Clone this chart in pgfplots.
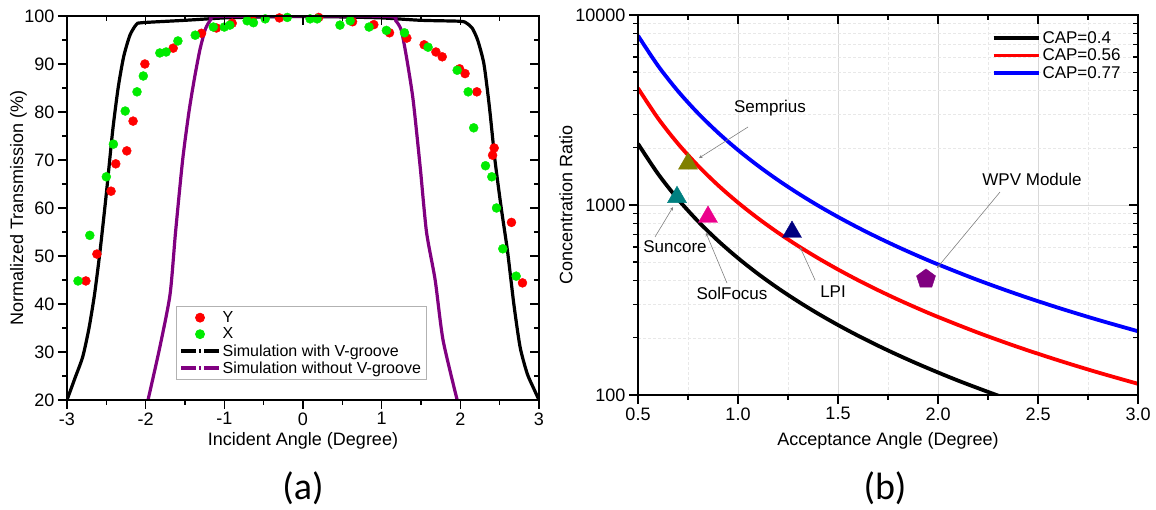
\documentclass[border=0pt]{standalone}
\usepackage{fontspec}
\setmainfont{Liberation Sans}
\newfontfamily\capfont{Carlito}
\usepackage{pgfplots}
\pgfplotsset{compat=1.18}

\definecolor{simpurple}{RGB}{128,0,128}
\definecolor{dotgreen}{RGB}{0,235,0}
\definecolor{semp}{RGB}{128,128,0}
\definecolor{sunc}{RGB}{0,128,128}
\definecolor{lpi}{RGB}{0,0,128}
\definecolor{wpv}{RGB}{128,0,128}

\newcommand{\tickfont}{\fontsize{18}{20}\selectfont}
\newcommand{\labfont}{\fontsize{18}{21}\selectfont}

\tikzset{tk/.style={line width=1.6pt, black}, tkm/.style={line width=1.3pt, black}}

\pgfplotsset{
  panel/.style={
    scale only axis, anchor=south west,
    major tick length=9pt, minor tick length=5pt,
    every major tick/.append style={line width=1.6pt, black},
    every minor tick/.append style={line width=1.4pt, black},
    axis line style={line width=1.8pt},
    tick label style={font=\tickfont},
    /pgf/number format/assume math mode=true,
  },
  frame/.style={
    panel, xtick=\empty, ytick=\empty, clip=false,
  },
  dotleg/.style={legend image code/.code={\draw[mark repeat=2,mark phase=2,##1] plot coordinates {(0pt,0pt) (19pt,0pt) (38pt,0pt)};}},
  dashleg/.style={legend image code/.code={\draw[##1, dash pattern=on 15pt off 3pt on 2pt off 3pt] (0pt,0pt) -- (38pt,0pt);}},
  lineleg/.style={legend image code/.code={\draw[##1] (0pt,0pt) -- (45pt,0pt);}},
}

\begin{document}
\begin{tikzpicture}
\path (0pt,0pt) rectangle (1156pt,510pt);

% ---------- panel (a) ----------
\begin{axis}[
  panel,
  at={(67pt,110pt)},
  width=472pt, height=384pt,
  xmin=-3, xmax=3, ymin=20, ymax=100,
  xtick={-3,-2,-1,0,1,2,3},
  ytick={20,30,40,50,60,70,80,90,100},
  minor x tick num=1, minor y tick num=1,
  xtick pos=left, ytick pos=left, tick align=outside,
  xlabel={Incident Angle (Degree)},
  ylabel={Normalized Transmission (\%)},
  xlabel style={at={(axis description cs:0.5,-0.107)}, anchor=center, font=\labfont},
  ylabel style={at={(axis description cs:-0.103,0.5)}, anchor=center, font=\labfont},
  legend style={at={(axis description cs:0.231,0.052)}, anchor=south west,
    draw=gray!60, line width=0.8pt, font=\fontsize{16}{18}\selectfont,
    row sep=0pt, inner sep=3pt, cells={anchor=west}},
]
\addplot[only marks, mark=*, mark size=4.5pt, color=red, dotleg]
coordinates {
(-2.76,44.8) (-2.62,50.4) (-2.44,63.5) (-2.38,69.2) (-2.24,71.9) (-2.16,78.1)
(-2.01,90.0) (-1.65,93.3) (-1.29,96.4) (-1.10,97.5) (-0.90,98.5) (-0.65,99.2)
(-0.30,99.6) (0.20,99.7) (0.63,98.8) (0.90,98.2) (1.10,96.5) (1.32,95.4)
(1.54,94.0) (1.69,92.5) (1.77,91.5) (1.99,89.0) (2.06,88.0) (2.21,84.2)
(2.41,71.0) (2.43,72.5) (2.65,57.0) (2.79,44.4)
};
\addlegendentry{Y}
\addplot[only marks, mark=*, mark size=4.5pt, color=dotgreen, dotleg]
coordinates {
(-2.86,44.8) (-2.71,54.3) (-2.50,66.5) (-2.41,73.3) (-2.26,80.2) (-2.11,84.2)
(-2.03,87.5) (-1.82,92.3) (-1.74,92.5) (-1.59,94.8) (-1.37,96.0) (-1.14,97.7)
(-1.00,97.7) (-0.93,98.1) (-0.71,99.0) (-0.63,98.6) (-0.48,99.4) (-0.20,99.7)
(0.09,99.4) (0.18,99.4) (0.47,98.1) (0.60,99.0) (0.84,97.7) (1.06,97.0)
(1.29,96.5) (1.59,93.5) (1.96,88.7) (2.10,84.2) (2.17,76.7) (2.32,68.8)
(2.40,66.5) (2.46,60.0) (2.54,51.5) (2.71,45.8)
};
\addlegendentry{X}
\addplot[black, line width=3.2pt, smooth, tension=0.4, dashleg]
coordinates {
(-3.00,20) (-2.90,24.5) (-2.80,29) (-2.72,35) (-2.65,42) (-2.58,51) (-2.50,63)
(-2.42,76) (-2.35,85) (-2.28,91.5) (-2.20,96) (-2.12,98.2) (-2.05,98.6)
(-1.5,99.1) (-1.0,99.6) (-0.5,99.8) (0,99.9) (0.5,99.8) (1.0,99.6) (1.5,99.1)
(2.00,98.9) (2.08,98.5) (2.15,97.5) (2.22,95) (2.30,90) (2.37,81) (2.44,70)
(2.52,60) (2.60,51) (2.68,40) (2.76,31) (2.85,25.5) (2.93,22.5) (3.00,20)
};
\addlegendentry{Simulation with V-groove}
\addplot[simpurple, line width=3.2pt, smooth, tension=0.4, dashleg]
coordinates {
(-1.97,20) (-1.82,31) (-1.69,42) (-1.62,55) (-1.53,70) (-1.45,80) (-1.38,87)
(-1.31,93) (-1.24,97.3) (-1.17,99.3) (-1.10,99.9) (0,100) (1.10,99.9)
(1.18,99) (1.25,97) (1.32,91) (1.40,82.5) (1.49,68.5) (1.57,55) (1.68,45)
(1.78,32.5) (1.96,20)
};
\addlegendentry{Simulation without V-groove}
\end{axis}
% tick marks of panel (a): outward on bottom/left, inward on top/right
\begin{axis}[
  frame, at={(67pt,110pt)}, width=472pt, height=384pt,
  xmin=-3, xmax=3, ymin=20, ymax=100,
]
\addplot[draw=none] coordinates {(0,50)};
\pgfplotsinvokeforeach{-3,-2,-1,0,1,2,3}{
  \draw[tk] (axis cs:#1,20) -- ++(0pt,-9pt);
  \draw[tk] (axis cs:#1,100) -- ++(0pt,-9pt);
}
\pgfplotsinvokeforeach{-2.5,-1.5,-0.5,0.5,1.5,2.5}{
  \draw[tkm] (axis cs:#1,20) -- ++(0pt,-5pt);
  \draw[tkm] (axis cs:#1,100) -- ++(0pt,-5pt);
}
\pgfplotsinvokeforeach{20,30,40,50,60,70,80,90,100}{
  \draw[tk] (axis cs:-3,#1) -- ++(-9pt,0pt);
  \draw[tk] (axis cs:3,#1) -- ++(-9pt,0pt);
}
\pgfplotsinvokeforeach{25,35,45,55,65,75,85,95}{
  \draw[tkm] (axis cs:-3,#1) -- ++(-5pt,0pt);
  \draw[tkm] (axis cs:3,#1) -- ++(-5pt,0pt);
}
\end{axis}

% ---------- panel (b) ----------
\begin{axis}[
  panel,
  at={(638pt,115pt)},
  width=500pt, height=380pt,
  xmin=0.5, xmax=3, ymin=100, ymax=10000,
  ymode=log,
  xtick={0.5,1,1.5,2,2.5,3},
  minor x tick num=1,
  ytick={100,1000,10000}, yticklabels={100,1000,10000},
  xticklabel style={/pgf/number format/.cd, fixed, fixed zerofill, precision=1},
  xtick pos=left, ytick pos=left, tick align=outside,
  grid=both,
  major grid style={gray!30, line width=0.5pt},
  minor grid style={gray!18, line width=0.5pt, densely dashed},
  xlabel={Acceptance Angle (Degree)},
  ylabel={Concentration Ratio},
  xlabel style={at={(axis description cs:0.5,-0.121)}, anchor=center, font=\labfont},
  ylabel style={at={(axis description cs:-0.144,0.5)}, anchor=center, font=\labfont},
  legend style={at={(axis description cs:0.705,0.965)}, anchor=north west,
    draw=none, fill=none, font=\fontsize{17}{19}\selectfont,
    row sep=0pt, inner sep=1pt, cells={anchor=west}},
  lineleg,
]
\addplot[black, line width=3.8pt, smooth] coordinates {
(0.5,2101) (0.6,1459) (0.7,1072) (0.8,820.8) (0.9,648.5) (1.0,525.3) (1.1,434.1)
(1.2,364.8) (1.3,310.9) (1.4,268.0) (1.5,233.5) (1.6,205.2) (1.7,181.8)
(1.8,162.2) (1.9,145.6) (2.0,131.4) (2.1,119.1) (2.2,108.6) (2.3,99.3) (2.4,91.2)
};
\addlegendentry{CAP=0.4}
\addplot[red, line width=3.8pt, smooth] coordinates {
(0.5,4118) (0.6,2860) (0.7,2101) (0.8,1608.7) (0.9,1271.1) (1.0,1029.6)
(1.1,850.9) (1.2,715.0) (1.3,609.3) (1.4,525.4) (1.5,457.7) (1.6,402.2)
(1.7,356.3) (1.8,317.8) (1.9,285.3) (2.0,257.5) (2.2,212.8) (2.4,178.8)
(2.6,152.4) (2.8,131.4) (3.0,114.5)
};
\addlegendentry{CAP=0.56}
\addplot[blue, line width=3.8pt, smooth] coordinates {
(0.5,7786) (0.6,5407) (0.7,3972) (0.8,3041) (0.9,2403) (1.0,1946.6)
(1.1,1608.8) (1.2,1351.9) (1.3,1151.9) (1.4,993.3) (1.5,865.3) (1.6,760.5)
(1.7,673.7) (1.8,600.9) (1.9,539.4) (2.0,486.8) (2.2,402.3) (2.4,338.1)
(2.6,288.1) (2.8,248.5) (3.0,216.5)
};
\addlegendentry{CAP=0.77}

\addplot[only marks, mark=triangle*, mark size=11pt, color=semp, forget plot] coordinates {(0.75,1650)};
\addplot[only marks, mark=triangle*, mark size=11pt, color=sunc, forget plot] coordinates {(0.695,1100)};
\addplot[only marks, mark=triangle*, mark size=11pt, color=magenta, forget plot] coordinates {(0.85,865)};
\addplot[only marks, mark=triangle*, mark size=11pt, color=lpi, forget plot] coordinates {(1.27,721)};
\addplot[only marks, mark=pentagon*, mark size=10pt, color=wpv, forget plot] coordinates {(1.94,408)};

\draw[gray, line width=0.6pt, -stealth] (axis cs:1.05,2573) -- (axis cs:0.805,1766);
\draw[gray, line width=0.6pt, -stealth] (axis cs:0.585,679) -- (axis cs:0.675,975);
\draw[gray, line width=0.6pt, -stealth] (axis cs:0.945,388) -- (axis cs:0.84,713);
\draw[gray, line width=0.6pt, -stealth] (axis cs:1.385,403) -- (axis cs:1.31,601);
\draw[gray, line width=0.6pt, -stealth] (axis cs:2.31,1170) -- (axis cs:1.995,466);

\node[font=\fontsize{17}{19}\selectfont] at (axis cs:1.16,3243) {Semprius};
\node[font=\fontsize{17}{19}\selectfont] at (axis cs:0.685,601) {Suncore};
\node[font=\fontsize{17}{19}\selectfont] at (axis cs:0.97,344) {SolFocus};
\node[font=\fontsize{17}{19}\selectfont] at (axis cs:1.475,348) {LPI};
\node[font=\fontsize{17}{19}\selectfont] at (axis cs:2.47,1371) {WPV Module};
\end{axis}
% tick marks of panel (b)
\begin{axis}[
  frame, at={(638pt,115pt)}, width=500pt, height=380pt,
  xmin=0.5, xmax=3, ymin=100, ymax=10000, ymode=log,
]
\addplot[draw=none] coordinates {(1,1000)};
\pgfplotsinvokeforeach{0.5,1,1.5,2,2.5,3}{
  \draw[tk] (axis cs:#1,100) -- ++(0pt,-9pt);
  \draw[tk] (axis cs:#1,10000) -- ++(0pt,-9pt);
}
\pgfplotsinvokeforeach{0.75,1.25,1.75,2.25,2.75}{
  \draw[tkm] (axis cs:#1,100) -- ++(0pt,-5pt);
  \draw[tkm] (axis cs:#1,10000) -- ++(0pt,-5pt);
}
\pgfplotsinvokeforeach{100,1000,10000}{
  \draw[tk] (axis cs:0.5,#1) -- ++(-9pt,0pt);
  \draw[tk] (axis cs:3,#1) -- ++(-9pt,0pt);
}
\pgfplotsinvokeforeach{200,300,400,500,600,700,800,900,2000,3000,4000,5000,6000,7000,8000,9000}{
  \draw[tkm] (axis cs:0.5,#1) -- ++(-5pt,0pt);
  \draw[tkm] (axis cs:3,#1) -- ++(-5pt,0pt);
}
\end{axis}

\node[font=\capfont\fontsize{38}{42}\selectfont] at (303pt,22pt) {(a)};
\node[font=\capfont\fontsize{38}{42}\selectfont] at (885pt,22pt) {(b)};
\end{tikzpicture}
\end{document}
